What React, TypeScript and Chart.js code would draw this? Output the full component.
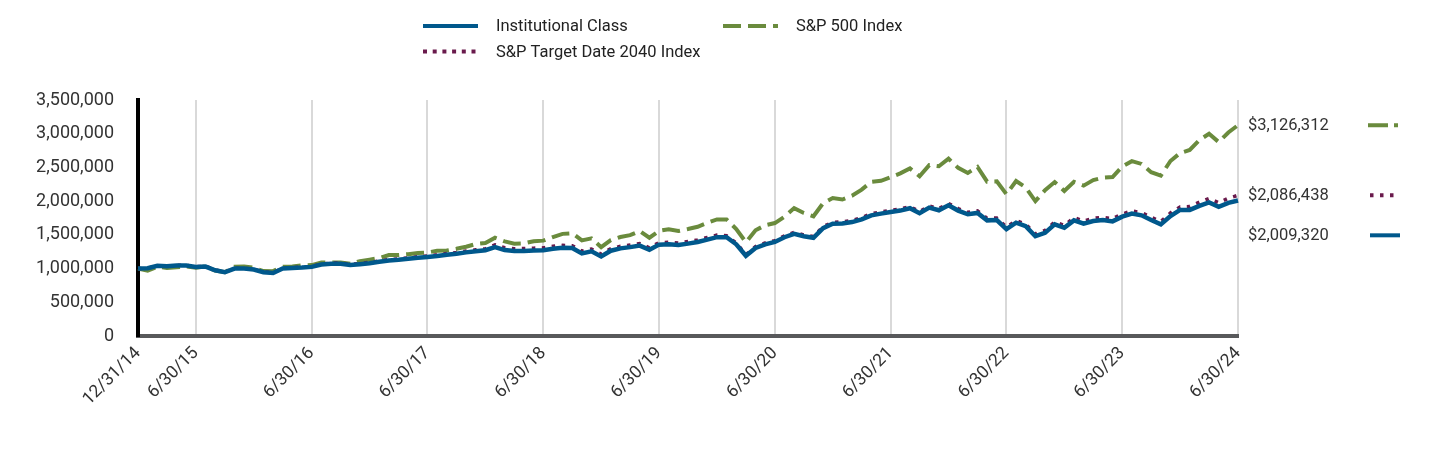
import React, { useEffect, useRef } from 'react';
import { Chart, registerables } from 'chart.js';

Chart.register(...registerables);

const FONT = 'Roboto, "Noto Sans", "DejaVu Sans", sans-serif';

const categories = [
  '12/31/14',
  '1/31/15', '2/28/15', '3/31/15', '4/30/15', '5/31/15', '6/30/15', '7/31/15', '8/31/15', '9/30/15', '10/31/15', '11/30/15', '12/31/15',
  '1/31/16', '2/29/16', '3/31/16', '4/30/16', '5/31/16', '6/30/16', '7/31/16', '8/31/16', '9/30/16', '10/31/16', '11/30/16', '12/31/16',
  '1/31/17', '2/28/17', '3/31/17', '4/30/17', '5/31/17', '6/30/17', '7/31/17', '8/31/17', '9/30/17', '10/31/17', '11/30/17', '12/31/17',
  '1/31/18', '2/28/18', '3/31/18', '4/30/18', '5/31/18', '6/30/18', '7/31/18', '8/31/18', '9/30/18', '10/31/18', '11/30/18', '12/31/18',
  '1/31/19', '2/28/19', '3/31/19', '4/30/19', '5/31/19', '6/30/19', '7/31/19', '8/31/19', '9/30/19', '10/31/19', '11/30/19', '12/31/19',
  '1/31/20', '2/29/20', '3/31/20', '4/30/20', '5/31/20', '6/30/20', '7/31/20', '8/31/20', '9/30/20', '10/31/20', '11/30/20', '12/31/20',
  '1/31/21', '2/28/21', '3/31/21', '4/30/21', '5/31/21', '6/30/21', '7/31/21', '8/31/21', '9/30/21', '10/31/21', '11/30/21', '12/31/21',
  '1/31/22', '2/28/22', '3/31/22', '4/30/22', '5/31/22', '6/30/22', '7/31/22', '8/31/22', '9/30/22', '10/31/22', '11/30/22', '12/31/22',
  '1/31/23', '2/28/23', '3/31/23', '4/30/23', '5/31/23', '6/30/23', '7/31/23', '8/31/23', '9/30/23', '10/31/23', '11/30/23', '12/31/23',
  '1/31/24', '2/29/24', '3/31/24', '4/30/24', '5/31/24', '6/30/24',
];

const tickLabels = [
  '12/31/14', '6/30/15', '6/30/16', '6/30/17', '6/30/18', '6/30/19',
  '6/30/20', '6/30/21', '6/30/22', '6/30/23', '6/30/24',
];

const yTickValues = [0, 500000, 1000000, 1500000, 2000000, 2500000, 3000000, 3500000];

const institutionalClass = [
  1000000,
  1005000, 1040000, 1035000, 1045000, 1045000, 1025000, 1030000, 975000, 945000, 1000000, 1000000, 985000,
  945000, 935000, 1000000, 1010000, 1015000, 1025000, 1060000, 1070000, 1072000, 1052000, 1065000, 1080000,
  1100000, 1120000, 1130000, 1145000, 1160000, 1172000, 1185000, 1205000, 1220000, 1240000, 1258000, 1272000,
  1320000, 1275000, 1260000, 1262000, 1268000, 1272000, 1295000, 1310000, 1305000, 1225000, 1255000, 1180000,
  1265000, 1300000, 1318000, 1340000, 1278000, 1355000, 1360000, 1350000, 1370000, 1395000, 1430000, 1466000,
  1466000, 1360000, 1190000, 1305000, 1360000, 1395000, 1465000, 1516000, 1480000, 1456000, 1600000, 1665000,
  1668000, 1690000, 1730000, 1790000, 1815000, 1840000, 1860000, 1895000, 1820000, 1904000, 1865000, 1940000,
  1860000, 1805000, 1825000, 1715000, 1720000, 1585000, 1680000, 1630000, 1480000, 1530000, 1655000, 1605000,
  1715000, 1665000, 1705000, 1720000, 1700000, 1770000, 1815000, 1790000, 1720000, 1655000, 1780000, 1870000,
  1870000, 1930000, 1980000, 1915000, 1975000, 2009320,
];

const sp500Index = [
  1000000,
  970000, 1025600, 1009300, 1018900, 1031900, 1011800, 1033000, 970600, 946500, 1026400, 1029400, 1013000,
  962600, 961300, 1026400, 1030300, 1048700, 1051300, 1089900, 1091300, 1091400, 1071400, 1110900, 1132800,
  1154200, 1199900, 1201300, 1213600, 1230600, 1238100, 1263500, 1267300, 1293200, 1323200, 1363700, 1378800,
  1457600, 1403700, 1367900, 1372900, 1405900, 1414500, 1466900, 1514600, 1523100, 1418700, 1447500, 1316700,
  1421900, 1467500, 1495800, 1556200, 1457300, 1559900, 1582200, 1557000, 1586000, 1620200, 1678800, 1729300,
  1728500, 1586100, 1390000, 1568100, 1642500, 1675000, 1769300, 1896400, 1824200, 1775500, 1969700, 2045200,
  2024300, 2080000, 2170900, 2286600, 2302400, 2355800, 2411600, 2484700, 2368900, 2534700, 2517000, 2629500,
  2493500, 2418700, 2508200, 2289200, 2293200, 2103700, 2297500, 2203500, 2000300, 2162100, 2282800, 2151100,
  2286000, 2230000, 2311600, 2347400, 2357200, 2512800, 2593200, 2551700, 2429800, 2378500, 2595400, 2712900,
  2758300, 2905300, 2998600, 2875900, 3018300, 3126312,
];

const targetDate2040Index = [
  1000000,
  1005000, 1042000, 1037000, 1048000, 1048000, 1028000, 1035000, 980000, 950000, 1005000, 1005000, 990000,
  950000, 940000, 1005000, 1015000, 1020000, 1030000, 1070000, 1080000, 1083000, 1063000, 1077000, 1092000,
  1113000, 1133000, 1144000, 1159000, 1175000, 1187000, 1205000, 1225000, 1240000, 1260000, 1278000, 1292000,
  1352000, 1310000, 1295000, 1297000, 1303000, 1307000, 1330000, 1345000, 1340000, 1260000, 1290000, 1215000,
  1295000, 1330000, 1348000, 1370000, 1308000, 1385000, 1390000, 1380000, 1400000, 1425000, 1460000, 1496000,
  1488000, 1380000, 1208000, 1325000, 1380000, 1415000, 1485000, 1536000, 1500000, 1476000, 1622000, 1687000,
  1693000, 1715000, 1755000, 1815000, 1840000, 1865000, 1885000, 1920000, 1845000, 1930000, 1890000, 1965000,
  1890000, 1835000, 1855000, 1745000, 1750000, 1615000, 1710000, 1660000, 1512000, 1565000, 1690000, 1640000,
  1755000, 1705000, 1745000, 1760000, 1740000, 1810000, 1855000, 1830000, 1762000, 1698000, 1825000, 1915000,
  1920000, 1985000, 2040000, 1977000, 2043000, 2086438,
];

const seriesNames = ['Institutional Class', 'S&P Target Date 2040 Index', 'S&P 500 Index'];
const endValueLabels = ['$2,009,320', '$2,086,438', '$3,126,312'];

const BLUE = '#00588c';
const PURPLE = '#6a1a4c';
const GREEN = '#6a8b3d';
const TEXT = '#333333';

const drawSample = (ctx: CanvasRenderingContext2D, x1: number, x2: number, y: number, color: string, dash: number[], width: number) => {
  ctx.save();
  ctx.beginPath();
  ctx.strokeStyle = color;
  ctx.lineWidth = width;
  ctx.lineCap = 'butt';
  ctx.setLineDash(dash);
  ctx.moveTo(x1, y);
  ctx.lineTo(x2, y);
  ctx.stroke();
  ctx.restore();
};

const overlayPlugin = {
  id: 'overlay',
  afterDraw(chart: any) {
    const ctx: CanvasRenderingContext2D = chart.ctx;
    const area = chart.chartArea;
    const yScale = chart.scales.y;
    const ds = chart.data.datasets;

    ctx.save();
    ctx.font = `16.5px ${FONT}`;
    ctx.fillStyle = '#222222';
    ctx.textBaseline = 'middle';
    ctx.textAlign = 'left';

    // legend
    const legend = [
      { i: 0, x: 423, y: 26 },
      { i: 2, x: 723, y: 26 },
      { i: 1, x: 423, y: 51.5 },
    ];
    legend.forEach((l) => {
      const d = ds[l.i];
      const dash = l.i === 1 ? [4, 5.7] : (d.borderDash || []);
      drawSample(ctx, l.x, l.x + 55, l.y, d.borderColor, dash, 4);
      ctx.fillStyle = '#222222';
      ctx.fillText(d.label, l.x + 73, l.y + 1);
    });

    // end value labels
    const items = ds.map((d: any, i: number) => ({
      i,
      y: yScale.getPixelForValue(d.data[d.data.length - 1]),
    }));
    items.sort((a: any, b: any) => a.y - b.y);
    for (let k = 1; k < items.length; k++) {
      if (items[k].y - items[k - 1].y < 40) items[k].y = items[k - 1].y + 40;
    }
    items.forEach((it: any) => {
      const d = ds[it.i];
      ctx.fillStyle = TEXT;
      ctx.fillText(endValueLabels[it.i], area.right + 10, it.y + 1);
      if (it.i === 0) drawSample(ctx, area.right + 132, area.right + 162, it.y, d.borderColor, [], 4);
      else if (it.i === 1) drawSample(ctx, area.right + 132, area.right + 156, it.y, d.borderColor, [3.5, 6.5], 4);
      else drawSample(ctx, area.right + 130, area.right + 160, it.y, d.borderColor, [20, 6], 4);
    });
    ctx.restore();
  },
};

export default function App() {
  const ref = useRef<HTMLCanvasElement | null>(null);

  useEffect(() => {
    if (!ref.current) return;
    const chart = new Chart(ref.current, {
      type: 'line',
      data: {
        labels: categories,
        datasets: [
          {
            label: seriesNames[0],
            data: institutionalClass,
            borderColor: BLUE,
            borderWidth: 4.5,
            pointRadius: 0,
            tension: 0,
          },
          {
            label: seriesNames[1],
            data: targetDate2040Index,
            borderColor: PURPLE,
            borderWidth: 3.5,
            borderDash: [3.5, 6.5],
            pointRadius: 0,
            tension: 0,
          },
          {
            label: seriesNames[2],
            data: sp500Index,
            borderColor: GREEN,
            borderWidth: 4,
            borderDash: [18, 7],
            pointRadius: 0,
            tension: 0,
          },
        ],
      },
      options: {
        animation: false,
        responsive: false,
        events: [],
        layout: { padding: { top: 100, right: 202, left: 0, bottom: 0 } },
        plugins: {
          legend: { display: false },
          tooltip: { enabled: false },
        },
        scales: {
          x: {
            type: 'category',
            offset: false,
            grid: {
              drawTicks: false,
              lineWidth: 2,
              color: (c: any) => (tickLabels.includes(categories[c.index]) ? '#d9d9d9' : 'rgba(0,0,0,0)'),
            },
            border: { display: true, color: '#58595b', width: 4 },
            ticks: {
              autoSkip: false,
              minRotation: 45,
              maxRotation: 45,
              padding: 7,
              color: TEXT,
              font: { family: FONT, size: 17.5 },
              callback: (_v: any, i: number) => (tickLabels.includes(categories[i]) ? categories[i] : ''),
            },
            afterFit: (s: any) => {
              s.height = 120;
            },
          },
          y: {
            min: 0,
            max: 3500000,
            afterBuildTicks: (s: any) => {
              s.ticks = yTickValues.map((v) => ({ value: v }));
            },
            grid: { display: false, drawTicks: false },
            border: { display: true, color: '#000000', width: 4 },
            ticks: {
              padding: 24,
              color: TEXT,
              font: { family: FONT, size: 18 },
              callback: (v: any) => Number(v).toLocaleString('en-US'),
            },
            afterFit: (s: any) => {
              s.width = 138;
            },
          },
        },
      },
      plugins: [overlayPlugin],
    });
    return () => chart.destroy();
  }, []);

  return (
    <div style={{ position: 'absolute', left: 0, top: 0, width: 1440, height: 456, background: '#fff' }}>
      <canvas ref={ref} width={1440} height={456} style={{ display: 'block', width: 1440, height: 456 }} />
    </div>
  );
}
